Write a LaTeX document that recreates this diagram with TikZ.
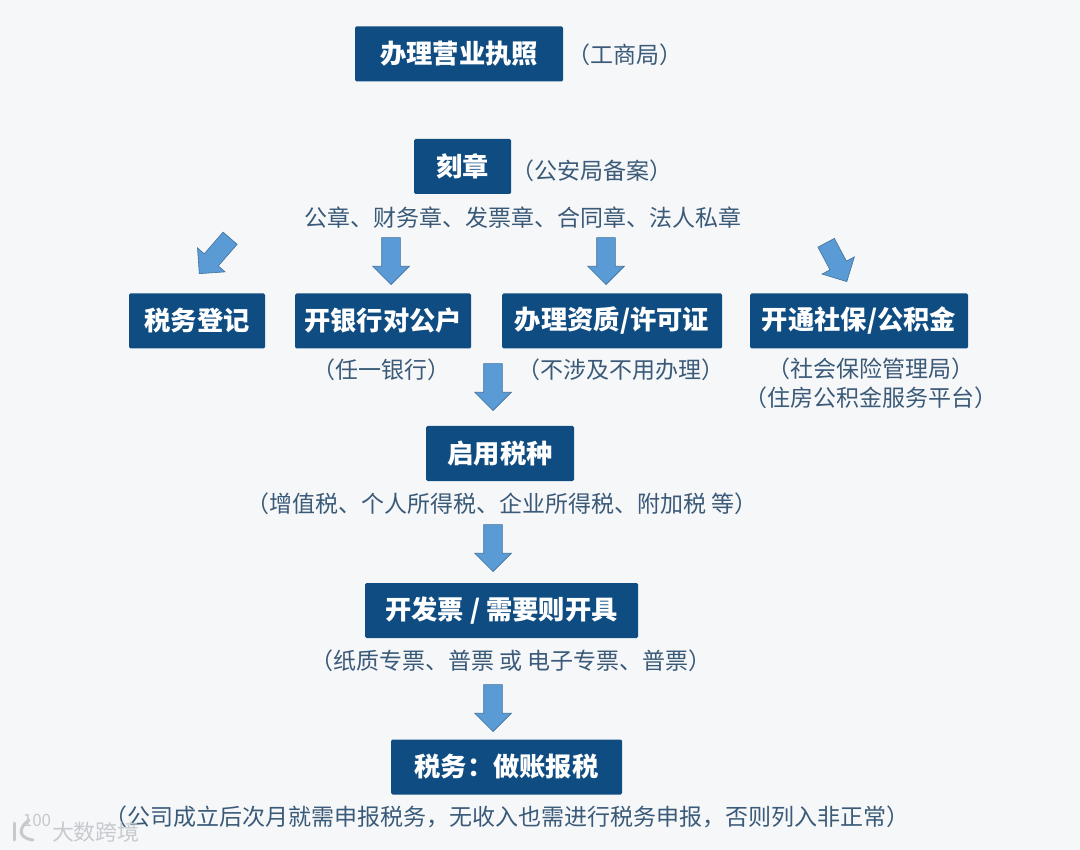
\documentclass[tikz,border=0pt]{standalone}
\usepackage{fontspec}
\usepackage{tikz}
\usetikzlibrary{shapes.arrows}
\setmainfont{Noto Sans CJK SC}
\definecolor{pagebg}{HTML}{F6F7F9}
\definecolor{boxblue}{HTML}{0F4C81}
\definecolor{arrowblue}{HTML}{5B9BD5}
\definecolor{arrowline}{HTML}{41719C}
\definecolor{notegray}{HTML}{3A5A78}
\definecolor{markshade}{HTML}{C6CACE}
\begin{document}
\begin{tikzpicture}[x=1pt,y=-1pt]
			\tikzset{stepbox/.style = {shape=rectangle,fill=boxblue,text=white,rounded corners=1.5pt,
					minimum height=55pt,inner sep=0pt,font=\fontsize{26.3}{30}\selectfont\bfseries}}
			\tikzset{note/.style = {text=notegray,inner sep=0pt,font=\fontsize{23}{27}\selectfont}}
			\tikzset{blockarrow/.style = {shape=single arrow,draw=arrowline,fill=arrowblue,line width=0.6pt,
					minimum height=47pt,inner sep=9pt,single arrow head extend=9pt,
					single arrow head indent=0pt,anchor=tip}}
			\tikzset{markstroke/.style = {markshade,line width=3pt,line cap=round}}
			
			% page
			\useasboundingbox (0,0) rectangle (1080,850);
			\fill[pagebg] (0,0) rectangle (1080,850);
			
			% boxes
			\node[stepbox,minimum width=208pt] (license) at  (459,54) {办理营业执照};
			\node[stepbox,minimum width=97pt] (seal) at  (462.5,166.5) {刻章};
			\node[stepbox,minimum width=136pt] (taxreg) at  (197,321) {税务登记};
			\node[stepbox,minimum width=176pt] (bank) at  (383,321) {开银行对公户};
			\node[stepbox,minimum width=220pt] (permit) at  (612,321) {办理资质/许可证};
			\node[stepbox,minimum width=218pt] (social) at  (859,321) {开通社保/公积金};
			\node[stepbox,minimum width=148pt] (taxtype) at  (500,453.5) {启用税种};
			\node[stepbox,minimum width=273pt] (invoice) at  (501.5,610.5) {开发票 / 需要则开具};
			\node[stepbox,minimum width=231pt] (filing) at  (506.5,767) {税务：做账报税};
			
			% notes
			\node[note] (licenseNote) at  (625,55) {（工商局）};
			\node[note] (sealNote) at  (592,171) {（公安局备案）};
			\node[note] (sealKinds) at  (523,218) {公章、财务章、发票章、合同章、法人私章};
			\node[note] (bankNote) at  (381,370) {（任一银行）};
			\node[note] (permitNote) at  (621,370) {（不涉及不用办理）};
			\node[note] (socialNote) at  (871,369) {（社会保险管理局）};
			\node[note] (fundNote) at  (871,398) {（住房公积金服务平台）};
			\node[note] (taxtypeNote) at  (502,504) {（增值税、个人所得税、企业所得税、附加税 等）};
			\node[note] (invoiceNote) at  (511,661) {（纸质专票、普票 或 电子专票、普票）};
			\node[note] (filingNote) at  (507,817) {（公司成立后次月就需申报税务，无收入也需进行税务申报，否则列入非正常）};
			
			% arrows
			\node[blockarrow,rotate=229] (toTaxreg) at  (199,274) {};
			\node[blockarrow,rotate=270] (toBank) at  (391,285) {};
			\node[blockarrow,rotate=270] (toPermit) at  (606,285) {};
			\node[blockarrow,rotate=298,minimum height=44pt] (toSocial) at  (847,282) {};
			\node[blockarrow,rotate=270] (toTaxtype) at  (493,411) {};
			\node[blockarrow,rotate=270] (toInvoice) at  (493,572) {};
			\node[blockarrow,rotate=270] (toFiling) at  (493,732) {};
			
			% watermark
			\draw[markstroke] (14,823) -- (14,840);
			\draw[markstroke] (29,820) .. controls (18,828) and (18,838) .. (33,840);
			\node[text=markshade,inner sep=0pt,font=\fontsize{17}{19}\selectfont] (logoDigits) at  (37,820) {100};
			\node[text=markshade,inner sep=0pt,font=\fontsize{22}{26}\selectfont] (mark) at  (96,832) {大数跨境};
			
\end{tikzpicture}
\end{document}
